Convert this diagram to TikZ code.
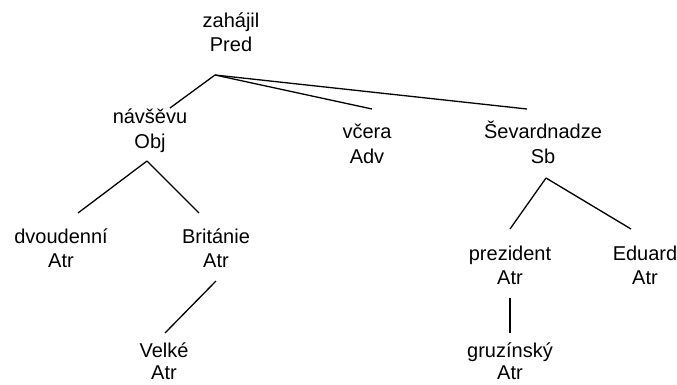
\documentclass[tikz,border=0pt]{standalone}
\usepackage{fontspec}
\setmainfont{Liberation Sans}
\begin{document}
\begin{tikzpicture}[x=1pt,y=-1pt,
  lbl/.style={anchor=base,inner sep=0pt,font=\fontsize{20}{24}\selectfont},
  link/.style={draw=black,line width=1.3pt}]
\useasboundingbox (0,0) rectangle (677,385);
% labels (word, function)
\node[lbl] (zah) at (231,28) {zahájil};
\node[lbl] (zahF) at (231,52) {Pred};
\node[lbl] (nav) at (150,124) {návšěvu};
\node[lbl] (navF) at (150,148) {Obj};
\node[lbl] (vce) at (367,139) {včera};
\node[lbl] (vceF) at (367,163) {Adv};
\node[lbl] (sev) at (543,139) {Ševardnadze};
\node[lbl] (sevF) at (543,163) {Sb};
\node[lbl] (dvo) at (61,243) {dvoudenní};
\node[lbl] (dvoF) at (61,267) {Atr};
\node[lbl] (bri) at (216,243) {Británie};
\node[lbl] (briF) at (216,267) {Atr};
\node[lbl] (vel) at (164,357) {Velké};
\node[lbl] (velF) at (164,379) {Atr};
\node[lbl] (pre) at (510,260) {prezident};
\node[lbl] (preF) at (510,284) {Atr};
\node[lbl] (edu) at (645,260) {Eduard};
\node[lbl] (eduF) at (645,284) {Atr};
\node[lbl] (gru) at (510,357) {gruzínský};
\node[lbl] (gruF) at (510,379) {Atr};
% connector end points
\coordinate (zahB) at (215,75);
\coordinate (navT) at (170,108);
\coordinate (vceT) at (372,109);
\coordinate (sevT) at (527,109);
\coordinate (navB) at (147,161);
\coordinate (dvoT) at (78,213);
\coordinate (briT) at (199,213);
\coordinate (briB) at (216,281);
\coordinate (velT) at (165,333);
\coordinate (sevB) at (546,178);
\coordinate (preT) at (510,229);
\coordinate (eduT) at (631,229);
\coordinate (preB) at (510,298);
\coordinate (gruT) at (510,333);
% connectors
\draw[link] (zahB) -- (navT);
\draw[link] (zahB) -- (vceT);
\draw[link] (zahB) -- (sevT);
\draw[link] (navB) -- (dvoT);
\draw[link] (navB) -- (briT);
\draw[link] (briB) -- (velT);
\draw[link] (sevB) -- (preT);
\draw[link] (sevB) -- (eduT);
\draw[link] (preB) -- (gruT);
\end{tikzpicture}
\end{document}
